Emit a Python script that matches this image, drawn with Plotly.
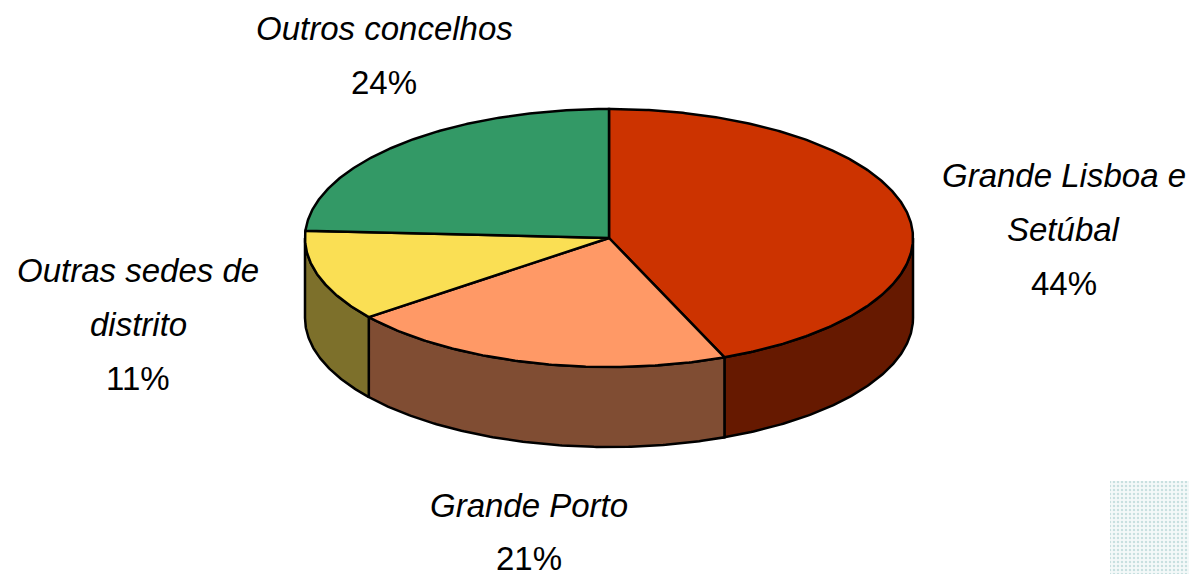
import numpy as np
import plotly.graph_objects as go

# Data
categories = ["Grande Lisboa e Setúbal", "Grande Porto", "Outras sedes de distrito", "Outros concelhos"]
values = [43.8, 20.7, 11.4, 24.1]
top_colors = ["#CC3300", "#FF9966", "#FADF54", "#339966"]
wall_colors = ["#661900", "#804D33", "#7D702B", "#1A4D33"]
label_lines = [["Grande Lisboa e", "Setúbal", "44%"], ["Grande Porto", "21%"],
               ["Outras sedes de", "distrito", "11%"], ["Outros concelhos", "24%"]]
label_x = [1064, 529, 138, 384]
label_y = [[175, 229, 283], [505, 558], [270, 324, 378], [28, 82]]

# Pie geometry (in plot units = page pixels)
W, H = 1189, 574
CX, CY, RX, RY, DEPTH = 609, 238, 304, 129, 80
FONT = "Liberation Sans"


def arc(a, b, dy=0):
    t = np.radians(np.linspace(a, b, max(2, int(abs(b - a) * 2))))
    return CX + RX * np.sin(t), CY + dy - RY * np.cos(t)


fig = go.Figure()
edges = np.cumsum([0] + values) * 3.6

# Side walls (only the front half of the ellipse is visible)
for i in range(len(values)):
    a, b = max(edges[i], 90), min(edges[i + 1], 270)
    if a >= b:
        continue
    x1, y1 = arc(a, b)
    x2, y2 = arc(b, a, DEPTH)
    fig.add_trace(go.Scatter(
        x=np.r_[x1, x2, x1[0]], y=np.r_[y1, y2, y1[0]], mode="lines", fill="toself",
        fillcolor=wall_colors[i], line=dict(color="black", width=2.5), hoverinfo="skip"))

# Top slices
for i in range(len(values)):
    x1, y1 = arc(edges[i], edges[i + 1])
    fig.add_trace(go.Scatter(
        x=np.r_[CX, x1, CX], y=np.r_[CY, y1, CY], mode="lines", fill="toself",
        fillcolor=top_colors[i], line=dict(color="black", width=2.5),
        name=categories[i], hoverinfo="skip"))

# Dotted patch, bottom right
fig.add_trace(go.Scatter(
    x=[1110, 1189, 1189, 1110, 1110], y=[481, 481, 574, 574, 481], mode="lines", fill="toself",
    fillcolor="rgba(0,0,0,0)", line=dict(width=0),
    fillpattern=dict(shape=".", size=4, solidity=0.3, fgcolor="#9CC6C6", bgcolor="#F4F9F9"),
    hoverinfo="skip"))

for lines, lx, lys in zip(label_lines, label_x, label_y):
    for j, (txt, ly) in enumerate(zip(lines, lys)):
        style = "normal" if txt.endswith("%") else "italic"
        fig.add_annotation(x=lx, y=ly, text=txt, showarrow=False, xanchor="center", yanchor="middle",
                           font=dict(family=FONT, size=33, color="black", style=style))

fig.update_layout(
    width=W, height=H, margin=dict(l=0, r=0, t=0, b=0), showlegend=False,
    paper_bgcolor="white", plot_bgcolor="white",
    xaxis=dict(range=[0, W], visible=False, fixedrange=True),
    yaxis=dict(range=[H, 0], visible=False, fixedrange=True),
)
fig.write_html("out.html", config=dict(displayModeBar=False),
               post_script="document.body.style.margin='0';document.body.style.overflow='hidden';")
